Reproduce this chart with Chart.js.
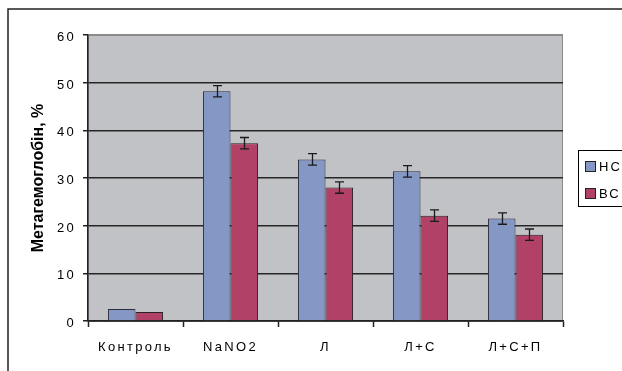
<!DOCTYPE html>
<html>
<head>
<meta charset="utf-8">
<script src="https://cdn.jsdelivr.net/npm/chart.js@4.4.1/dist/chart.umd.min.js"></script>
<style>
  body { margin: 0; background: #fff; }
  #wrap { width: 622px; height: 371px; }
</style>
</head>
<body>
<div id="wrap"><canvas id="barChart" width="622" height="371"></canvas></div>
<script>
// data
var categories = ['Контроль', 'NaNO2', 'Л', 'Л+С', 'Л+С+П'];
var seriesNames = ['НС', 'ВС'];
var valuesNS = [2.5, 48.2, 33.9, 31.4, 21.5];
var valuesVS = [1.9, 37.3, 28.0, 22.1, 18.1];
var errorsNS = [0, 1.2, 1.2, 1.2, 1.2];
var errorsVS = [0, 1.2, 1.2, 1.2, 1.2];
var yTicks = [0, 10, 20, 30, 40, 50, 60];

var FONT = 'Liberation Sans, Arial, sans-serif';

// grey plot background + outer frame + spaced lettering
var backdrop = {
    id: 'backdrop',
    beforeDraw: function (chart) {
        var ctx = chart.ctx, a = chart.chartArea;
        ctx.save();
        ctx.fillStyle = '#c0c2c6';
        ctx.fillRect(a.left, a.top, a.right - a.left, a.bottom - a.top);
        ctx.strokeStyle = '#8a8a8a';
        ctx.lineWidth = 1;
        ctx.strokeRect(a.left + 0.5, a.top + 0.5, a.right - a.left - 1, a.bottom - a.top);
        ctx.strokeStyle = '#222';
        ctx.lineWidth = 1.5;
        ctx.strokeRect(8, 9, 700, 500);
        ctx.restore();
        ctx.letterSpacing = '2.3px';
    },
    afterDraw: function (chart) {
        var ctx = chart.ctx, a = chart.chartArea;
        ctx.save();
        ctx.letterSpacing = '0px';
        // y axis title
        ctx.translate(38.5, (a.top + a.bottom) / 2);
        ctx.rotate(-Math.PI / 2);
        ctx.font = 'bold 16px ' + FONT;
        ctx.fillStyle = '#000';
        ctx.textAlign = 'center';
        ctx.textBaseline = 'middle';
        ctx.fillText('Метагемоглобін, %', 0, 0);
        ctx.restore();

        // legend
        ctx.save();
        ctx.fillStyle = '#fff';
        ctx.fillRect(578.5, 150.5, 60, 56);
        ctx.strokeStyle = '#000';
        ctx.lineWidth = 1;
        ctx.strokeRect(578.5, 150.5, 60, 56);
        ctx.letterSpacing = '2px';
        ctx.font = '13px ' + FONT;
        ctx.textBaseline = 'middle';
        chart.data.datasets.forEach(function (ds, i) {
            var y = 161 + i * 27;
            ctx.fillStyle = ds.backgroundColor;
            ctx.fillRect(585.5, y + 0.5, 10, 10);
            ctx.strokeStyle = '#222';
            ctx.strokeRect(585.5, y + 0.5, 10, 10);
            ctx.fillStyle = '#000';
            ctx.fillText(ds.label, 599, y + 6);
        });
        ctx.restore();
    }
};

// error bars from the error arrays, positioned with the y scale
var errorBars = {
    id: 'errorBars',
    afterDatasetsDraw: function (chart) {
        var ctx = chart.ctx, yScale = chart.scales.y;
        ctx.save();
        ctx.strokeStyle = '#1a1a1a';
        ctx.lineWidth = 1.3;
        chart.data.datasets.forEach(function (ds, i) {
            var meta = chart.getDatasetMeta(i);
            meta.data.forEach(function (bar, j) {
                var e = ds.errors[j];
                if (!e) return;
                var v = ds.data[j];
                var x = Math.round(bar.x) + 0.5;
                var yt = yScale.getPixelForValue(v + e);
                var yb = yScale.getPixelForValue(v - e);
                ctx.beginPath();
                ctx.moveTo(x, yt); ctx.lineTo(x, yb);
                ctx.moveTo(x - 4.5, yt); ctx.lineTo(x + 4.5, yt);
                ctx.moveTo(x - 4.5, yb); ctx.lineTo(x + 4.5, yb);
                ctx.stroke();
            });
        });
        ctx.restore();
    }
};

var ctx = document.getElementById('barChart').getContext('2d');
var chart = new Chart(ctx, {
    type: 'bar',
    data: {
        labels: categories,
        datasets: [{
            label: seriesNames[0],
            data: valuesNS,
            errors: errorsNS,
            backgroundColor: '#8497c5',
            borderColor: '#2a2d3a',
            borderWidth: 1,
            borderSkipped: 'bottom'
        }, {
            label: seriesNames[1],
            data: valuesVS,
            errors: errorsVS,
            backgroundColor: '#b14166',
            borderColor: '#2a2226',
            borderWidth: 1,
            borderSkipped: 'bottom'
        }]
    },
    options: {
        responsive: false,
        animation: false,
        devicePixelRatio: 1,
        layout: { padding: { top: 35, right: 59, left: 0, bottom: 0 } },
        datasets: { bar: { categoryPercentage: 0.58, barPercentage: 1.0 } },
        plugins: {
            legend: { display: false },
            tooltip: { enabled: false }
        },
        scales: {
            x: {
                afterFit: function (scale) { scale.height = 50; },
                grid: {
                    offset: true,
                    drawOnChartArea: false,
                    drawTicks: true,
                    tickLength: 6,
                    tickWidth: 1.5,
                    tickColor: '#222'
                },
                border: { color: '#222', width: 1.5 },
                ticks: {
                    color: '#000',
                    font: { family: FONT, size: 13 },
                    padding: 13,
                    maxRotation: 0
                }
            },
            y: {
                min: 0,
                max: 60,
                afterFit: function (scale) { scale.width = 88; },
                afterBuildTicks: function (scale) {
                    scale.ticks = yTicks.map(function (v) { return { value: v }; });
                },
                grid: {
                    color: function (c) { return c.tick && c.tick.value === 60 ? '#8a8a8a' : '#262626'; },
                    lineWidth: 1.5,
                    drawTicks: true,
                    tickLength: 5,
                    tickColor: '#222'
                },
                border: { color: '#222', width: 1.5 },
                ticks: {
                    color: '#000',
                    font: { family: FONT, size: 13 },
                    padding: 7,
                    labelOffset: 2.5
                }
            }
        }
    },
    plugins: [backdrop, errorBars]
});
</script>
</body>
</html>
